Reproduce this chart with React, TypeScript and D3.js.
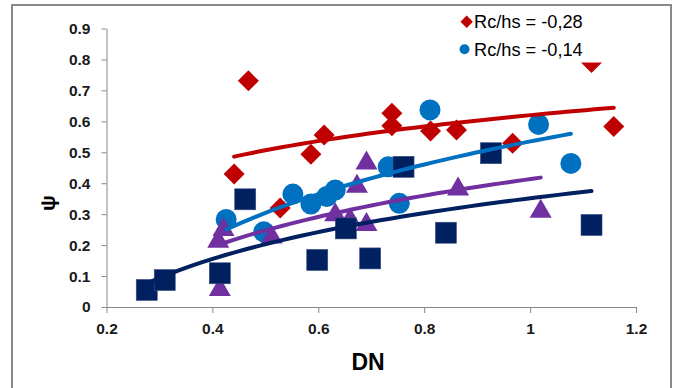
import { useEffect, useRef } from "react"
import * as d3 from "d3"

const dnTicks = [0.2, 0.4, 0.6, 0.8, 1, 1.2]
const psiTicks = [0, 0.1, 0.2, 0.3, 0.4, 0.5, 0.6, 0.7, 0.8, 0.9]

// Rc/hs = -0,28 (red diamonds)
const redDN = [0.468, 0.441, 0.528, 0.586, 0.611, 0.739, 0.739, 0.812, 0.861, 0.967, 1.158, 1.116]
const redPsi = [0.731, 0.43, 0.32, 0.494, 0.556, 0.626, 0.586, 0.569, 0.572, 0.529, 0.583, 0.79]

// Rc/hs = -0,14 (blue circles)
const blueDN = [0.426, 0.497, 0.552, 0.586, 0.616, 0.632, 0.753, 0.732, 0.811, 1.016, 1.077]
const bluePsi = [0.283, 0.243, 0.365, 0.333, 0.357, 0.378, 0.335, 0.453, 0.637, 0.59, 0.464]

// third series (purple triangles)
const purpleDN = [0.411, 0.421, 0.414, 0.512, 0.691, 0.673, 0.632, 0.66, 0.691, 0.864, 1.02]
const purplePsi = [0.222, 0.26, 0.066, 0.236, 0.475, 0.4, 0.308, 0.292, 0.276, 0.391, 0.319]

// fourth series (navy squares)
const navyDN = [0.276, 0.31, 0.414, 0.462, 0.598, 0.652, 0.698, 0.761, 0.841, 0.926, 1.116]
const navyPsi = [0.055, 0.087, 0.109, 0.348, 0.152, 0.254, 0.157, 0.453, 0.24, 0.497, 0.265]

const legendLabels = ["Rc/hs = -0,28", "Rc/hs = -0,14"]

const FONT = "'Liberation Sans', Arial, sans-serif"

// least squares fit of psi = a*ln(DN) + b (Excel log trendline)
function logFit(xs: number[], ys: number[]) {
  const lx = xs.map(Math.log)
  const mx = d3.mean(lx)!
  const my = d3.mean(ys)!
  const sxy = d3.sum(lx, (v, i) => (v - mx) * (ys[i] - my))
  const sxx = d3.sum(lx, (v) => (v - mx) ** 2)
  const a = sxy / sxx
  return { a, b: my - a * mx }
}

export default function App() {
  const svgRef = useRef<SVGSVGElement>(null)

  useEffect(() => {
    const svg = d3.select(svgRef.current)
    svg.selectAll("*").remove()

    const x = d3.scaleLinear().domain([0.2, 1.2]).range([106.5, 636])
    const y = d3.scaleLinear().domain([0, 0.9]).range([307, 28.5])

    // Outer chart border
    svg.append("rect")
      .attr("x", 12)
      .attr("y", 5)
      .attr("width", 659)
      .attr("height", 420)
      .attr("fill", "#ffffff")
      .attr("stroke", "#8a8a8a")
      .attr("stroke-width", 2)

    // Y axis
    const yAxis = svg.append("g")
      .attr("transform", `translate(${x(0.2)},0)`)
      .call(d3.axisLeft(y).tickValues(psiTicks).tickSize(5).tickSizeOuter(0).tickPadding(11).tickFormat((d) => String(d)))
    // X axis
    const xAxis = svg.append("g")
      .attr("transform", `translate(0,${y(0)})`)
      .call(d3.axisBottom(x).tickValues(dnTicks).tickSize(6).tickSizeOuter(0).tickPadding(10).tickFormat((d) => String(d)))

    ;[yAxis, xAxis].forEach((ax) => {
      ax.select(".domain").attr("stroke", "#868686")
      ax.selectAll(".tick line").attr("stroke", "#868686")
      ax.selectAll(".tick text")
        .attr("fill", "#1a1a1a")
        .attr("font-family", FONT)
        .attr("font-weight", "bold")
        .attr("font-size", 15.5)
    })

    // Axis titles
    svg.append("text")
      .attr("x", 368)
      .attr("y", 370)
      .attr("text-anchor", "middle")
      .attr("font-family", FONT)
      .attr("font-weight", "bold")
      .attr("font-size", 23)
      .attr("fill", "#000")
      .text("DN")

    svg.append("text")
      .attr("transform", "translate(55,203) rotate(-90)")
      .attr("text-anchor", "middle")
      .attr("font-family", FONT)
      .attr("font-weight", "bold")
      .attr("font-size", 21)
      .attr("fill", "#000")
      .text("ψ")

    const plot = svg.append("g")

    // Red diamonds
    plot.selectAll(".red")
      .data(redDN)
      .join("path")
      .attr("d", (d, i) => {
        const cx = x(d), cy = y(redPsi[i]), r = 10.5
        return `M${cx},${cy - r}L${cx + r},${cy}L${cx},${cy + r}L${cx - r},${cy}Z`
      })
      .attr("fill", "#C00000")

    // Blue circles
    plot.selectAll(".blue")
      .data(blueDN)
      .join("circle")
      .attr("cx", (d) => x(d))
      .attr("cy", (d, i) => y(bluePsi[i]))
      .attr("r", 10.5)
      .attr("fill", "#0070C0")

    // Purple triangles
    plot.selectAll(".purple")
      .data(purpleDN)
      .join("path")
      .attr("d", (d, i) => {
        const cx = x(d), cy = y(purplePsi[i])
        return `M${cx},${cy - 9.5}L${cx + 11},${cy + 9.5}L${cx - 11},${cy + 9.5}Z`
      })
      .attr("fill", "#7030A0")

    // Navy squares
    plot.selectAll(".navy")
      .data(navyDN)
      .join("rect")
      .attr("x", (d) => x(d) - 10.5)
      .attr("y", (d, i) => y(navyPsi[i]) - 10.5)
      .attr("width", 21)
      .attr("height", 21)
      .attr("fill", "#002060")
      .attr("stroke", "#3a4f80")
      .attr("stroke-width", 0.6)

    // Log trendlines
    const series = [
      { xs: redDN, ys: redPsi, color: "#C00000" },
      { xs: blueDN, ys: bluePsi, color: "#0070C0" },
      { xs: purpleDN, ys: purplePsi, color: "#7030A0" },
      { xs: navyDN, ys: navyPsi, color: "#002060" },
    ]
    const line = d3.line<[number, number]>().x((d) => x(d[0])).y((d) => y(d[1]))
    series.forEach((s) => {
      const { a, b } = logFit(s.xs, s.ys)
      const [lo, hi] = d3.extent(s.xs) as [number, number]
      const pts: [number, number][] = d3.range(0, 41).map((k) => {
        const v = lo + ((hi - lo) * k) / 40
        return [v, a * Math.log(v) + b]
      })
      plot.append("path")
        .attr("d", line(pts))
        .attr("fill", "none")
        .attr("stroke", s.color)
        .attr("stroke-width", 4)
        .attr("stroke-linecap", "round")
    })

    // Legend (white box covers what is behind it)
    const legend = svg.append("g")
    legend.append("rect")
      .attr("x", 455)
      .attr("y", 7)
      .attr("width", 150)
      .attr("height", 55.5)
      .attr("fill", "#ffffff")

    legend.append("path")
      .attr("d", "M466.7,15.5L472.9,21.7L466.7,27.9L460.5,21.7Z")
      .attr("fill", "#C00000")
    legend.append("circle")
      .attr("cx", 464.5)
      .attr("cy", 49.3)
      .attr("r", 5)
      .attr("fill", "#0070C0")

    legend.selectAll(".lbl")
      .data(legendLabels)
      .join("text")
      .attr("x", 474)
      .attr("y", (d, i) => 28 + i * 27.6)
      .attr("font-family", FONT)
      .attr("font-size", 18.2)
      .attr("fill", "#000")
      .text((d) => d)
  }, [])

  return (
    <svg
      ref={svgRef}
      width={676}
      height={388}
      style={{ position: "absolute", left: 0, top: 0, background: "#ffffff" }}
    />
  )
}
